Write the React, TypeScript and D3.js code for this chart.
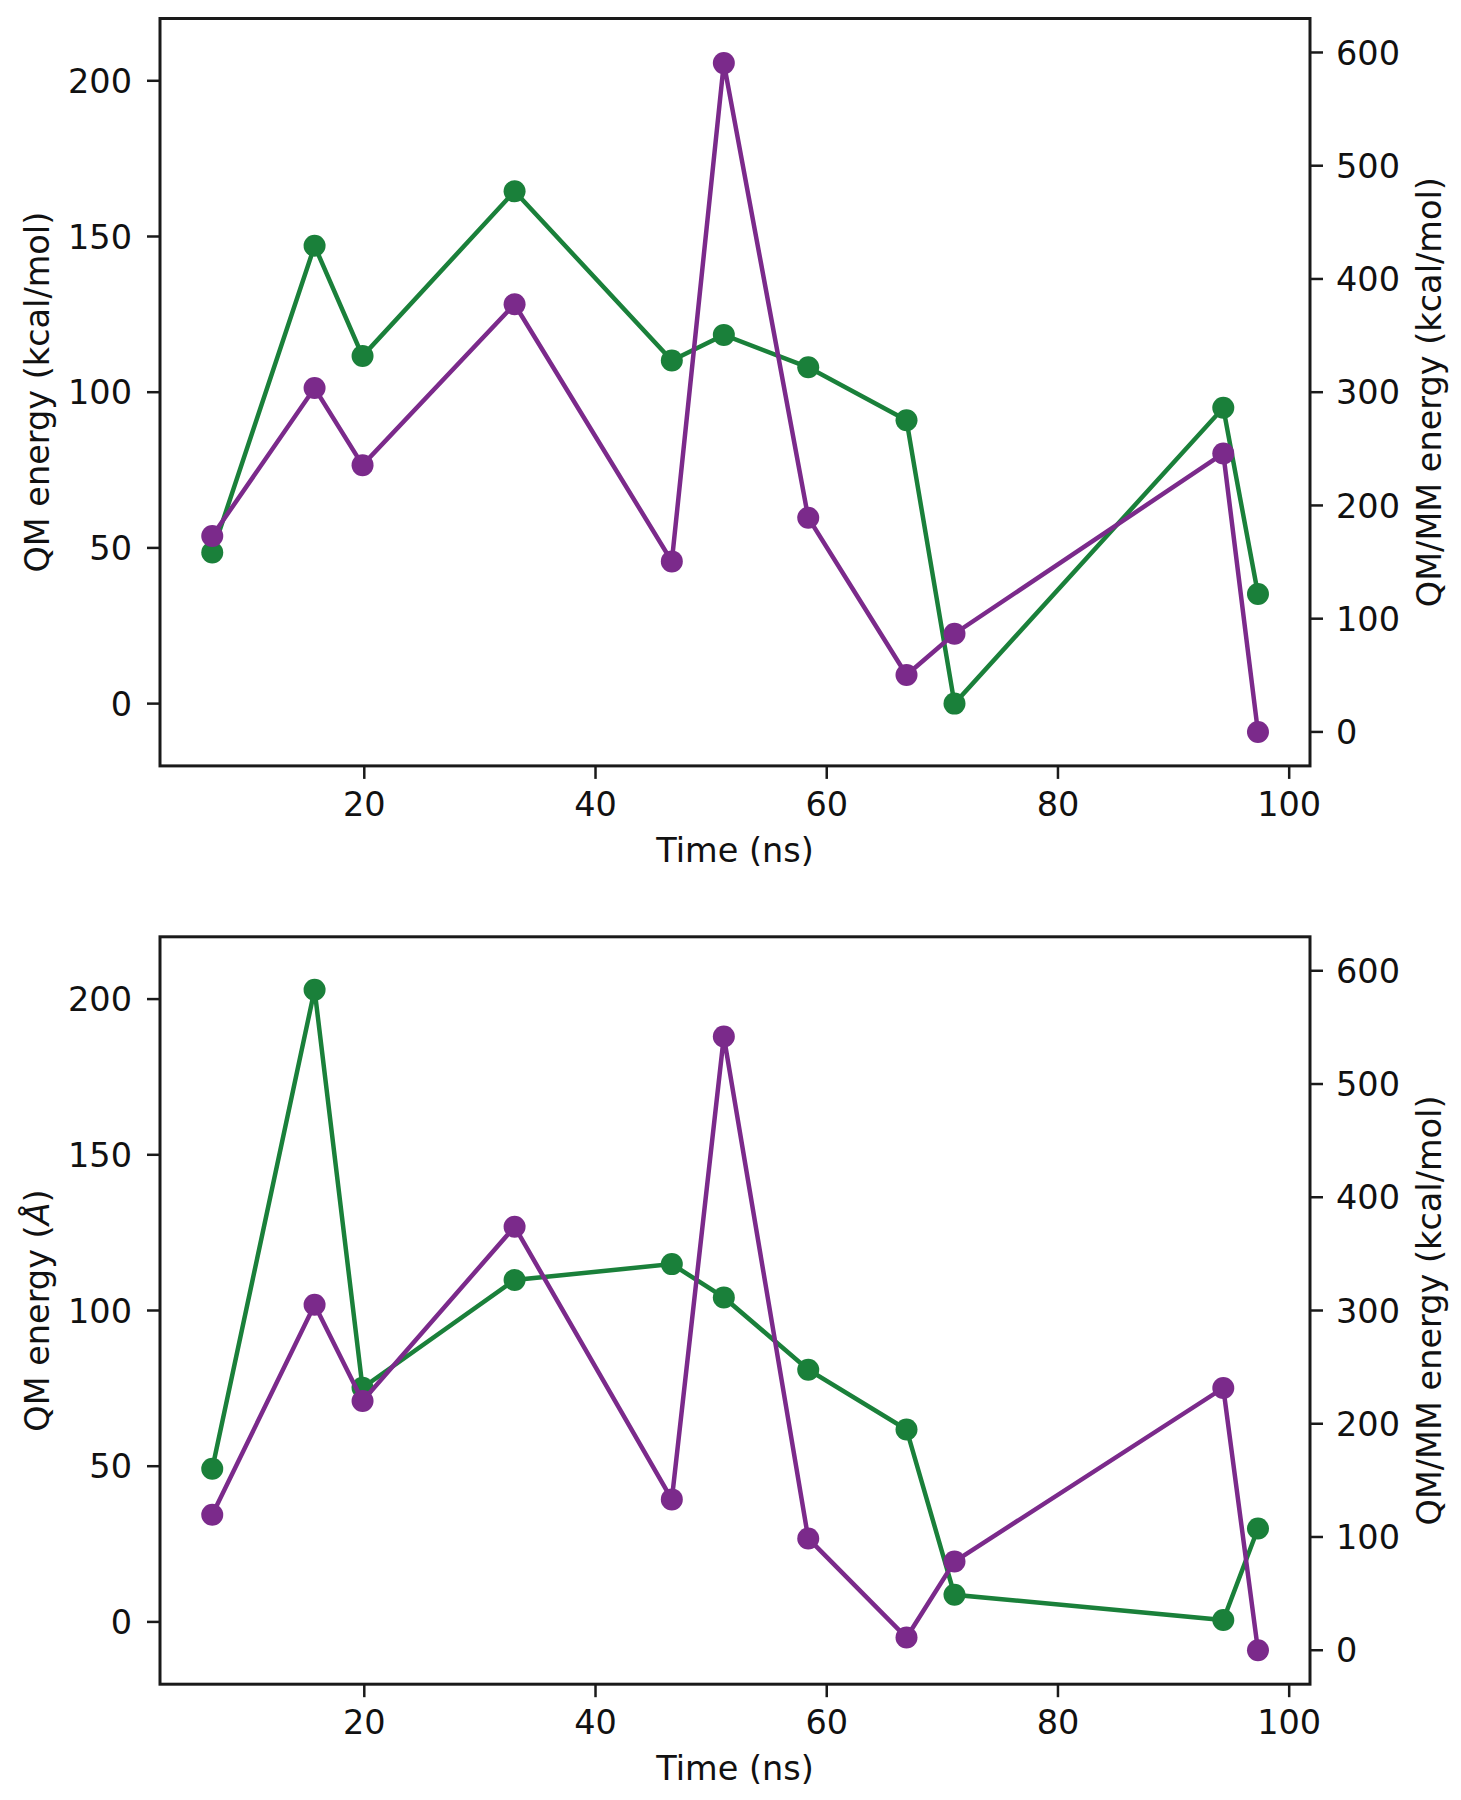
import React from "react";
import * as d3 from "d3";

const timeNs = [6.85, 15.7, 19.85, 33.0, 46.6, 51.1, 58.4, 66.9, 71.05, 94.3, 97.3];

const qmTop = [48.5, 147, 111.6, 164.5, 110.2, 118.4, 108, 91, 0, 95, 35.2];
const qmmmTop = [173, 303.7, 235.6, 377.7, 150.6, 590.6, 189.1, 50.3, 86.7, 245.9, 0];

const qmBottom = [49.2, 203, 75.2, 109.8, 114.9, 104.2, 81, 61.8, 8.7, 0.6, 30];
const qmmmBottom = [119.6, 305, 220, 374, 133.2, 541.9, 98.7, 11.2, 78.3, 231.6, 0];

const xTicks = [20, 40, 60, 80, 100];
const leftTicks = [0, 50, 100, 150, 200];
const rightTicks = [0, 100, 200, 300, 400, 500, 600];

const GREEN = "#1a803a";
const PURPLE = "#7b2a8b";
const FONT = "DejaVu Sans, sans-serif";
const FS = 33.5;

const X0 = 160, X1 = 1310;
const PH = 747.4;

const xScale = d3.scaleLinear().domain([2.33, 101.8]).range([X0, X1]);
const yLeft = d3.scaleLinear().domain([-20, 220]).range([PH, 0]);
const yRight = d3.scaleLinear().domain([-30, 630]).range([PH, 0]);

function Panel({ top, qm, qmmm, leftLabel }: { top: number; qm: number[]; qmmm: number[]; leftLabel: React.ReactNode }) {
  const lineL = d3.line<number>().x((_, i) => xScale(timeNs[i])).y((d) => yLeft(d));
  const lineR = d3.line<number>().x((_, i) => xScale(timeNs[i])).y((d) => yRight(d));
  const tl = 13;
  return (
    <g transform={`translate(0,${top})`} fontFamily={FONT} fontSize={FS} fill="#111">
      <path d={lineL(qm) || ""} fill="none" stroke={GREEN} strokeWidth={4.5} />
      {qm.map((v, i) => (
        <circle key={"g" + i} cx={xScale(timeNs[i])} cy={yLeft(v)} r={11} fill={GREEN} />
      ))}
      <path d={lineR(qmmm) || ""} fill="none" stroke={PURPLE} strokeWidth={4.5} />
      {qmmm.map((v, i) => (
        <circle key={"p" + i} cx={xScale(timeNs[i])} cy={yRight(v)} r={11} fill={PURPLE} />
      ))}
      <rect x={X0} y={0} width={X1 - X0} height={PH} fill="none" stroke="#1a1a1a" strokeWidth={3} />
      {xTicks.map((t) => (
        <g key={"x" + t}>
          <line x1={xScale(t)} x2={xScale(t)} y1={PH} y2={PH + tl} stroke="#1a1a1a" strokeWidth={2.5} />
          <text x={xScale(t)} y={PH + 50} textAnchor="middle">{t}</text>
        </g>
      ))}
      {leftTicks.map((t) => (
        <g key={"l" + t}>
          <line x1={X0} x2={X0 - tl} y1={yLeft(t)} y2={yLeft(t)} stroke="#1a1a1a" strokeWidth={2.5} />
          <text x={X0 - 28} y={yLeft(t)} dy="0.36em" textAnchor="end">{t}</text>
        </g>
      ))}
      {rightTicks.map((t) => (
        <g key={"r" + t}>
          <line x1={X1} x2={X1 + tl} y1={yRight(t)} y2={yRight(t)} stroke="#1a1a1a" strokeWidth={2.5} />
          <text x={X1 + 26} y={yRight(t)} dy="0.36em" textAnchor="start">{t}</text>
        </g>
      ))}
      <text x={(X0 + X1) / 2} y={PH + 96} textAnchor="middle">Time (ns)</text>
      <text transform={`translate(49,${PH / 2}) rotate(-90)`} textAnchor="middle">{leftLabel}</text>
      <text transform={`translate(1441,${PH / 2}) rotate(-90)`} textAnchor="middle">QM/MM energy (kcal/mol)</text>
    </g>
  );
}

export default function App() {
  return (
    <svg width={1461} height={1800} style={{ position: "absolute", left: 0, top: 0, background: "#fff" }}>
      <rect width={1461} height={1800} fill="#fff" />
      <Panel top={18.5} qm={qmTop} qmmm={qmmmTop} leftLabel="QM energy (kcal/mol)" />
      <Panel
        top={936.8}
        qm={qmBottom}
        qmmm={qmmmBottom}
        leftLabel={<>QM energy (<tspan fontStyle="italic">Å</tspan>)</>}
      />
    </svg>
  );
}
